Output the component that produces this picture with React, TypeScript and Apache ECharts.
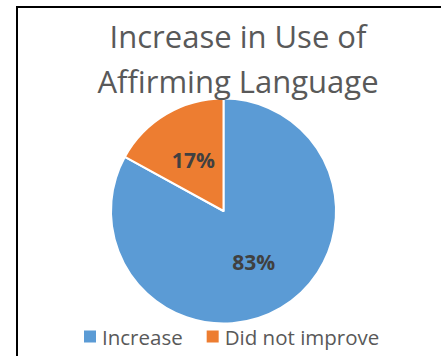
import React, { useEffect, useRef } from "react";
import * as echarts from "echarts";

const titleLines = ["Increase in Use of", "Affirming Language"];
const categories = ["Increase", "Did not improve"];
const values = [83, 17];
const colors = ["#5B9BD5", "#ED7D31"];

export default function App() {
  const ref = useRef<HTMLDivElement>(null);
  useEffect(() => {
    const chart = echarts.init(ref.current!, undefined, { renderer: "svg" });
    const font = "'Open Sans', 'Noto Sans', sans-serif";
    const tSize = 31;
    chart.setOption({
      animation: false,
      backgroundColor: "#ffffff",
      graphic: [
        { type: "line", shape: { x1: 17, y1: 7, x2: 441, y2: 7 }, style: { stroke: "#000", lineWidth: 2 } },
        { type: "line", shape: { x1: 17, y1: 6, x2: 17, y2: 356 }, style: { stroke: "#000", lineWidth: 2 } },
        {
          type: "text",
          x: 238,
          y: 47 - 0.36 * tSize,
          z: 10,
          style: { text: titleLines[0], fill: "#595959", font: `${tSize}px ${font}`, textAlign: "center", textVerticalAlign: "middle" },
        },
        {
          type: "text",
          x: 238,
          y: 92 - 0.36 * tSize,
          z: 10,
          style: { text: titleLines[1], fill: "#595959", font: `${tSize}px ${font}`, textAlign: "center", textVerticalAlign: "middle" },
        },
      ],
      legend: {
        data: categories,
        left: 77,
        top: 321,
        itemWidth: 14,
        itemHeight: 14,
        itemGap: 22,
        icon: "rect",
        textStyle: { color: "#595959", fontSize: 20.5, fontFamily: font },
      },
      series: [
        {
          type: "pie",
          center: [223.5, 211],
          radius: [0, 112.5],
          startAngle: 90,
          clockwise: true,
          itemStyle: { borderColor: "#ffffff", borderWidth: 2 },
          label: {
            show: true,
            position: "inside",
            formatter: (p: any) => `${p.value}%`,
            color: "#404040",
            fontSize: 21,
            fontWeight: "bold",
            fontFamily: font,
          },
          labelLine: { show: false },
          data: categories.map((c, i) => ({ name: c, value: values[i], itemStyle: { color: colors[i] } })),
        },
      ],
    });
    return () => chart.dispose();
  }, []);
  return <div ref={ref} style={{ position: "fixed", left: 0, top: 0, width: 441, height: 356 }} />;
}
